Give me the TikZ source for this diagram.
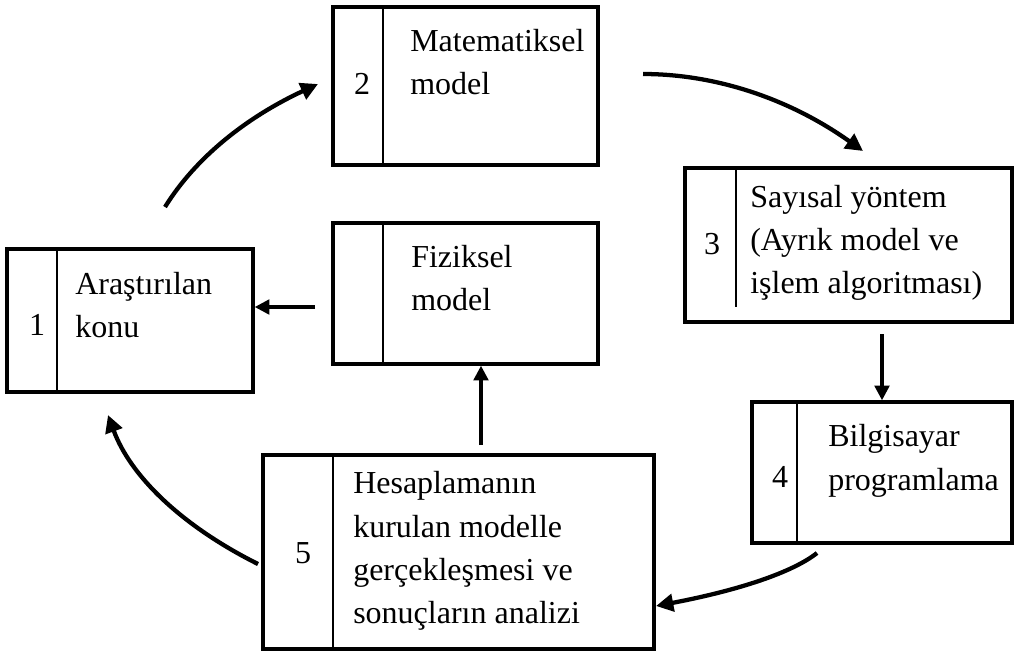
\documentclass[tikz,border=0pt]{standalone}
\usepackage{fontspec}
\setmainfont{Liberation Serif}
\usetikzlibrary{arrows.meta,fit}
\begin{document}
\begin{tikzpicture}[x=0.75pt,y=-0.75pt,
  box/.style={draw,line width=2.6pt,inner sep=0pt,rectangle},
  divider/.style={line width=2pt},
  txt/.style={inner sep=0pt,anchor=west,align=left,font=\fontsize{24}{32.5}\selectfont},
  num/.style={inner sep=0pt,font=\fontsize{24}{32}\selectfont},
  carrow/.style={line width=3.2pt,-{Triangle[length=13pt,width=13pt]}},
  sarrow/.style={line width=2.4pt,-{Triangle[length=11pt,width=11pt]}}]
\useasboundingbox (0,0) rectangle (1024,651);
% boxes
\node[box,fit={(7,249)(253,392)}] (b1) {};
\node[box,fit={(333,7)(598,165)}] (b2) {};
\node[box,fit={(333,223)(598,364)}] (bf) {};
\node[box,fit={(685,168)(1012,322)}] (b3) {};
\node[box,fit={(752,402)(1012,543)}] (b4) {};
\node[box,fit={(263,455)(654,649)}] (b5) {};
% dividers
\draw[divider] (b1.north -| 57,0) -- (b1.south -| 57,0);
\draw[divider] (b2.north -| 383,0) -- (b2.south -| 383,0);
\draw[divider] (bf.north -| 383,0) -- (bf.south -| 383,0);
\draw[divider] (b3.north -| 736,0) -- (736,307);
\draw[divider] (b4.north -| 797,0) -- (b4.south -| 797,0);
\draw[divider] (b5.north -| 333,0) -- (b5.south -| 333,0);
% numbers
\node[num] (n1) at (37,325) {1};
\node[num] (n2) at (362,84) {2};
\node[num] (n3) at (712,244) {3};
\node[num] (n4) at (780,477) {4};
\node[num] (n5) at (303,553) {5};
% texts
\node[txt] (t1) at (75,305) {Araştırılan\\konu};
\node[txt] (t2) at (410,62) {Matematiksel\\model};
\node[txt] (tf) at (411,278) {Fiziksel\\model};
\node[txt] (t3) at (750,243) {Sayısal yöntem\\(Ayrık model ve\\işlem algoritması)};
\node[txt] (t4) at (828,461) {Bilgisayar\\programlama};
\node[txt] (t5) at (353,551) {Hesaplamanın\\kurulan modelle\\gerçekleşmesi ve\\sonuçların analizi};
% arrow endpoints
\coordinate (a12s) at (165,207);
\coordinate (a12e) at (318,84);
\coordinate (a23s) at (643,74);
\coordinate (a23e) at (863,151);
\coordinate (a34s) at (882,334);
\coordinate (a45s) at (817,553);
\coordinate (a45e) at (656,606);
\coordinate (a51s) at (258,564);
\coordinate (a51e) at (108,415);
\coordinate (a5fs) at (481,445);
\coordinate (af1s) at (315,307);
% arrows
\draw[carrow] (a12s) .. controls (196,157) and (247,117) .. (a12e);
\draw[carrow] (a23s) .. controls (716,74) and (790,99) .. (a23e);
\draw[sarrow] (a34s) -- (a34s |- b4.north);
\draw[carrow] (a45s) .. controls (793,572) and (740,590) .. (a45e);
\draw[carrow] (a51s) .. controls (180,525) and (130,475) .. (a51e);
\draw[sarrow] (a5fs) -- (a5fs |- bf.south);
\draw[sarrow] (af1s) -- (af1s -| b1.east);
\end{tikzpicture}
\end{document}
